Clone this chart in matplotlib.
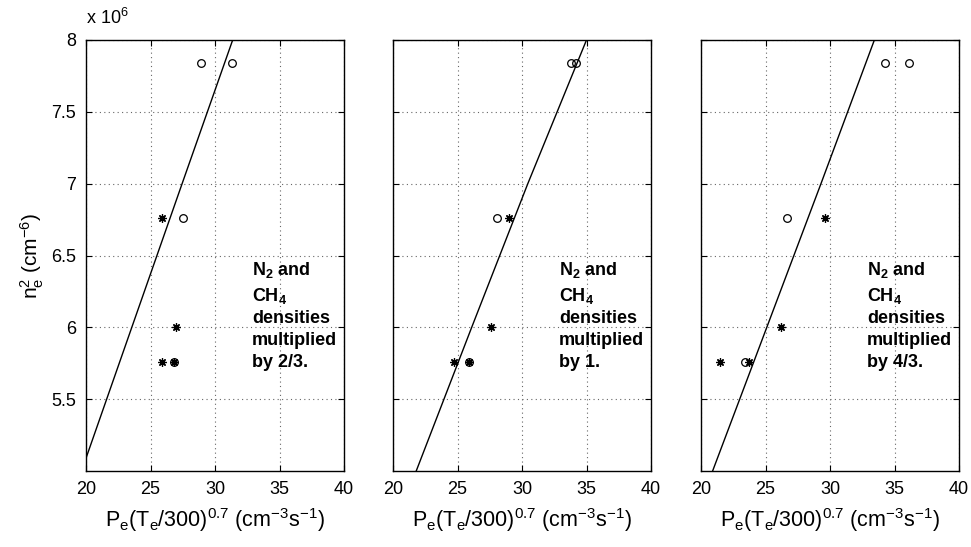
import matplotlib
matplotlib.use('Agg')
import matplotlib.pyplot as plt
from matplotlib.ticker import FuncFormatter

plt.rcParams['font.family'] = ['Liberation Sans', 'DejaVu Sans']
plt.rcParams['mathtext.fontset'] = 'custom'
plt.rcParams['mathtext.rm'] = 'Liberation Sans'
plt.rcParams['mathtext.it'] = 'Liberation Sans:italic'
plt.rcParams['mathtext.bf'] = 'Liberation Sans:bold'

# n_e^2 levels (cm^-6)
circ_y = [7.84e6, 7.84e6, 6.76e6, 5.76e6]
star_y = [6.76e6, 6.0e6, 5.76e6, 5.76e6]

# P_e (T_e/300)^0.7 for each panel
circ_x = [
    [28.9, 31.3, 27.5, 26.8],
    [33.8, 34.2, 28.1, 25.9],
    [34.3, 36.1, 26.7, 23.4],
]
star_x = [
    [25.9, 27.0, 25.9, 26.8],
    [29.0, 27.6, 24.7, 25.9],
    [29.6, 26.2, 21.5, 23.7],
]

# model curves
line_x = [
    [20.0, 23.55, 27.45, 31.37],
    [21.8, 26.1, 30.45, 35.0],
    [20.9, 25.1, 29.3, 33.44],
]
line_y = [
    [5.089e6, 6.0e6, 7.0e6, 8.0e6],
    [5.0e6, 6.0e6, 7.0e6, 8.0e6],
    [5.0e6, 6.0e6, 7.0e6, 8.0e6],
]

factors = ['2/3', '1', '4/3']
xticks = [20, 25, 30, 35, 40]
yticks = [5.5e6, 6.0e6, 6.5e6, 7.0e6, 7.5e6, 8.0e6]

fig = plt.figure(figsize=(9.71, 5.47), dpi=100)
lefts = [86, 393, 701]
W, H = 971, 547

for i in range(3):
    ax = fig.add_axes([lefts[i] / W, (H - 471) / H, 258 / W, 431 / H])
    ax.plot(line_x[i], line_y[i], color='black', lw=1.0)
    ax.plot(circ_x[i], circ_y, linestyle='none', marker='o', ms=5.5,
            mfc='none', mec='black', mew=0.9)
    ax.plot(star_x[i], star_y, linestyle='none', marker=(8, 2, 0), ms=6,
            color='black', mew=0.9)
    ax.set_xlim(20, 40)
    ax.set_ylim(5e6, 8e6)
    ax.set_xticks(xticks)
    ax.set_yticks(yticks)
    ax.yaxis.set_major_formatter(FuncFormatter(lambda v, p: f'{v / 1e6:g}'))
    ax.grid(True, color='0.4', linestyle=(0, (1, 3)), lw=0.8)
    ax.tick_params(direction='in', top=True, right=True, length=4,
                   labelsize=13, pad=7)
    for s in ax.spines.values():
        s.set_linewidth(1.0)
    if i > 0:
        ax.set_yticklabels([])
    ax.set_xlabel(r'P$_\mathrm{e}$(T$_\mathrm{e}$/300)$^{0.7}$ (cm$^{-3}$s$^{-1}$)',
                  fontsize=15.5, labelpad=6)
    txt = (r'$\mathbf{N}_\mathbf{2}$ and' + '\n' + r'$\mathbf{CH}_\mathbf{4}$' + '\n'
           + 'densities\nmultiplied\nby ' + factors[i] + '.')
    ax.text(32.85, 6.47e6, txt, fontsize=13, fontweight='bold',
            va='top', ha='left', linespacing=1.38)

fig.axes[0].set_ylabel(r'n$_\mathrm{e}^2$ (cm$^{-6}$)', fontsize=15, labelpad=4)
fig.text(86 / W, 1 - 18 / H, r'x 10$^{6}$', fontsize=13, va='center', ha='left')

fig.savefig('out.png', dpi=100)
